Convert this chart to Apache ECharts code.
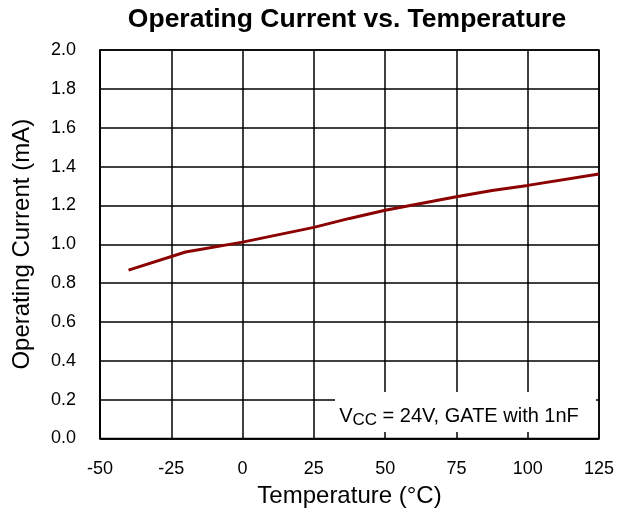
<!DOCTYPE html>
<html>
<head>
<meta charset="utf-8">
<script src="https://cdn.jsdelivr.net/npm/echarts@6/dist/echarts.min.js"></script>
<style>
html,body{margin:0;padding:0;background:#fff;}
#c{width:630px;height:523px;}
</style>
</head>
<body>
<div id="c"></div>
<script>
const title = "Operating Current vs. Temperature";
const xName = "Temperature (°C)";
const yName = "Operating Current (mA)";
const temps = [-40, -20, 0, 25, 37.5, 50, 62.5, 75, 87.5, 100, 125];
const current = [0.867, 0.96, 1.011, 1.087, 1.133, 1.175, 1.21, 1.245, 1.277, 1.303, 1.362];
const xTicks = [-50, -25, 0, 25, 50, 75, 100, 125];
const yTicks = [0.0, 0.2, 0.4, 0.6, 0.8, 1.0, 1.2, 1.4, 1.6, 1.8, 2.0];

const chart = echarts.init(document.getElementById('c'));
const font = 'Liberation Sans, Arial, sans-serif';
chart.setOption({
  animation: false,
  backgroundColor: '#fff',
  title: {
    text: title, left: 342, top: 1, textAlign: 'center',
    textStyle: {fontFamily: font, fontWeight: 'bold', fontSize: 26.5, color: '#000'}
  },
  grid: {left: 100, right: 31, top: 50, bottom: 84.5, show: true, borderColor: '#000', borderWidth: 1.5,
    outerBoundsMode: 'none', containLabel: false},
  xAxis: {
    type: 'value', min: xTicks[0], max: xTicks[xTicks.length-1], interval: 25,
    name: xName, nameLocation: 'middle', nameGap: 46,
    nameTextStyle: {fontFamily: font, fontSize: 24, color: '#000'},
    axisLine: {show: true, onZero: false, lineStyle: {color: '#000', width: 1.5}},
    axisTick: {show: false},
    axisLabel: {fontFamily: font, fontSize: 18, color: '#000', margin: 22},
    splitLine: {show: true, lineStyle: {color: '#000', width: 1.5}}
  },
  yAxis: {
    type: 'value', min: yTicks[0], max: yTicks[yTicks.length-1], interval: 0.2,
    name: yName, nameLocation: 'middle', nameGap: 66, nameRotate: 90,
    nameTextStyle: {fontFamily: font, fontSize: 24, color: '#000'},
    axisLine: {show: true, onZero: false, lineStyle: {color: '#000', width: 1.5}},
    axisTick: {show: false},
    axisLabel: {fontFamily: font, fontSize: 18, color: '#000', margin: 24,
      formatter: v => v.toFixed(1)},
    splitLine: {show: true, lineStyle: {color: '#000', width: 1.5}}
  },
  series: [{
    type: 'line', data: temps.map((t, i) => [t, current[i]]),
    symbol: 'none', smooth: false,
    lineStyle: {color: '#8B0000', width: 3}
  }],
  graphic: [{
    type: 'rect', shape: {x: 335, y: 392, width: 261, height: 40},
    style: {fill: '#fff'}, z: 100
  }, {
    type: 'text', x: 459, y: 416, z: 101,
    style: {
      text: '{v|V}{s|CC}{v| = 24V, GATE with 1nF}',
      align: 'center', verticalAlign: 'middle',
      rich: {
        v: {fontFamily: font, fontSize: 20, lineHeight: 20, fill: '#000', verticalAlign: 'top'},
        s: {fontFamily: font, fontSize: 17, lineHeight: 16, fill: '#000', padding: [6, 0, 0, 0], verticalAlign: 'top'}
      }
    }
  }]
});
</script>
</body>
</html>
